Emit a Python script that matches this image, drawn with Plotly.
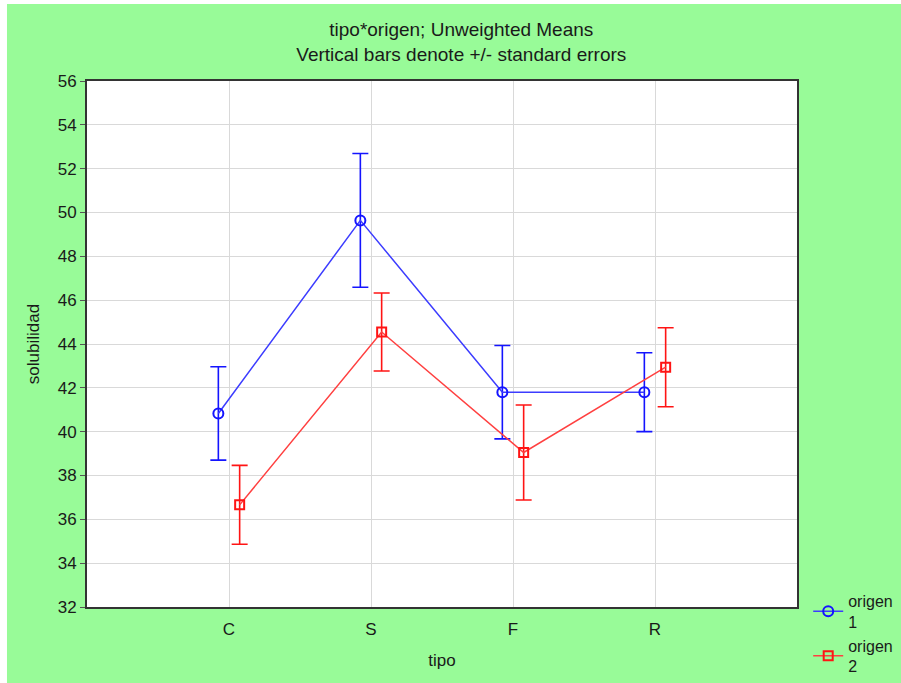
import plotly.graph_objects as go

# tipo categories and means / standard errors per origen
tipo = ["C", "S", "F", "R"]
origen1_mean = [40.83, 49.64, 41.80, 41.80]
origen1_se = [2.13, 3.05, 2.13, 1.80]
origen2_mean = [36.66, 44.55, 39.05, 42.94]
origen2_se = [1.80, 1.78, 2.17, 1.80]

font = "Liberation Sans, Arial, sans-serif"
green = "#98FB98"

fig = go.Figure()

fig.add_trace(go.Scatter(
    x=tipo, y=origen1_mean, name="origen<br>1", mode="lines+markers",
    line=dict(color="#3c3cff", width=1.5),
    marker=dict(symbol="circle-open", size=10, color="#1414ff", line=dict(width=2)),
    error_y=dict(type="data", array=origen1_se, visible=True, color="#1414ff", thickness=1.6, width=8),
))
fig.add_trace(go.Scatter(
    x=tipo, y=origen2_mean, name="origen<br>2", mode="lines+markers",
    line=dict(color="#ff4040", width=1.5),
    marker=dict(symbol="square-open", size=9, color="#ff1414", line=dict(width=2)),
    error_y=dict(type="data", array=origen2_se, visible=True, color="#ff1414", thickness=1.6, width=8),
))

# thin white edge along the top and left, as in the original export
fig.add_shape(type="rect", xref="paper", yref="paper", x0=-0.2, x1=-0.1127, y0=-0.3, y1=1.3,
              fillcolor="white", line=dict(width=0), layer="below")
fig.add_shape(type="rect", xref="paper", yref="paper", x0=-0.2, x1=1.3, y0=1.1464, y1=1.3,
              fillcolor="white", line=dict(width=0), layer="below")

fig.update_layout(
    width=901, height=683,
    margin=dict(l=87, r=104, t=81, b=76, autoexpand=False),
    paper_bgcolor=green, plot_bgcolor="white",
    font=dict(family=font, size=17, color="#1a1a1a"),
    title=dict(text="tipo*origen; Unweighted Means<br>Vertical bars denote +/- standard errors",
               x=0.512, xanchor="center", y=0.947, yanchor="middle",
               font=dict(size=19, family=font, color="#1a1a1a")),
    scattermode="group", scattergap=0.7,
    showlegend=True,
    legend=dict(xref="container", yref="container", x=0.897, xanchor="left", y=0.145, yanchor="top",
                bgcolor="rgba(0,0,0,0)", font=dict(size=16), tracegroupgap=0, itemwidth=30),
)

fig.update_xaxes(type="category", range=[-1, 4], showgrid=True, gridcolor="#d9d9d9", gridwidth=1,
                 showline=True, linecolor="#333333", linewidth=2, mirror=True,
                 ticks="outside", ticklen=6, tickcolor="rgba(0,0,0,0)",
                 title=dict(text="tipo", standoff=16, font=dict(size=17)), tickfont=dict(size=17))
fig.update_yaxes(range=[32, 56], dtick=2, showgrid=True, gridcolor="#d9d9d9", gridwidth=1,
                 showline=True, linecolor="#333333", linewidth=2, mirror=True,
                 ticks="outside", ticklen=5, tickcolor="#555555",
                 title=dict(text="solubilidad", standoff=14, font=dict(size=17)),
                 tickfont=dict(size=17), zeroline=False)

# drop the default page margin so the figure sits at the window origin
fig.write_html("out.html", config={"displayModeBar": False},
               post_script="document.body.style.margin='0';")
